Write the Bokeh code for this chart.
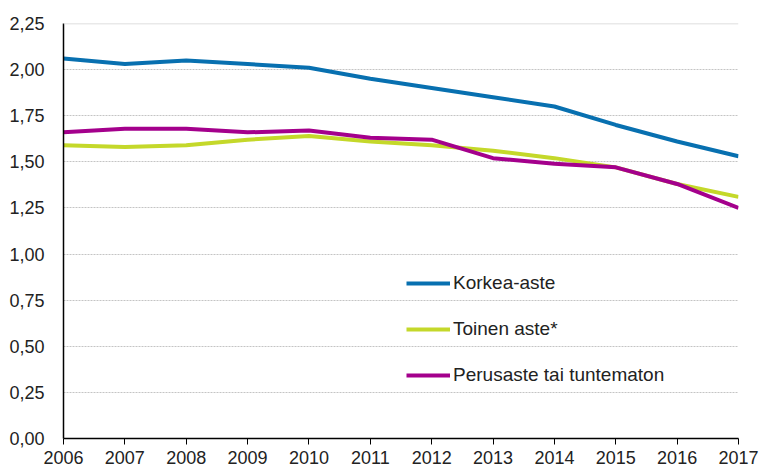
from bokeh.plotting import figure
from bokeh.models import FixedTicker, Range1d, Legend, LegendItem, Span
from bokeh.embed import file_html
from bokeh.resources import INLINE

years = [2006, 2007, 2008, 2009, 2010, 2011, 2012, 2013, 2014, 2015, 2016, 2017]
korkea = [2.06, 2.03, 2.05, 2.03, 2.01, 1.95, 1.90, 1.85, 1.80, 1.70, 1.61, 1.53]
toinen = [1.59, 1.58, 1.59, 1.62, 1.64, 1.61, 1.59, 1.56, 1.52, 1.47, 1.38, 1.31]
perus = [1.66, 1.68, 1.68, 1.66, 1.67, 1.63, 1.62, 1.52, 1.49, 1.47, 1.38, 1.25]
series_names = ["Korkea-aste", "Toinen aste*", "Perusaste tai tuntematon"]
colors = ["#0870B0", "#C4D82A", "#A4008C"]
y_ticks = [0.0, 0.25, 0.5, 0.75, 1.0, 1.25, 1.5, 1.75, 2.0, 2.25]

FONT = "Liberation Sans"

p = figure(width=760, height=468, output_backend="svg", toolbar_location=None,
           x_range=Range1d(2006, 2017), y_range=Range1d(0, 2.25),
           min_border_left=63, min_border_right=22, min_border_top=23, min_border_bottom=30)
p.outline_line_color = None
p.background_fill_color = "white"

p.add_layout(Span(location=y_ticks[-1], dimension="width", line_color="#d4d4d4", line_width=1.5))

renderers = []
for ys, c in zip([korkea, toinen, perus], colors):
    r = p.line(years, ys, line_color=c, line_width=4, line_join="round")
    renderers.append(r)

# axes
p.xaxis.ticker = FixedTicker(ticks=years)
p.xaxis.axis_line_color = "black"
p.xaxis.axis_line_width = 1.5
p.xaxis.major_tick_line_color = "black"
p.xaxis.major_tick_in = 0
p.xaxis.major_tick_out = 6
p.xaxis.minor_tick_line_color = None
p.xaxis.major_label_standoff = 6
p.xaxis.major_label_text_font = FONT
p.xaxis.major_label_text_font_size = "18px"
p.xaxis.major_label_text_color = "#222222"

p.yaxis.ticker = FixedTicker(ticks=y_ticks)
p.yaxis.major_label_overrides = {t: f"{t:.2f}".replace(".", ",") for t in y_ticks}
p.yaxis.axis_line_color = "black"
p.yaxis.axis_line_width = 1.5
p.yaxis.major_tick_line_color = None
p.yaxis.minor_tick_line_color = None
p.yaxis.major_label_standoff = 13
p.yaxis.major_label_text_font = FONT
p.yaxis.major_label_text_font_size = "18px"
p.yaxis.major_label_text_color = "#222222"

p.xgrid.grid_line_color = None
p.ygrid.ticker = FixedTicker(ticks=y_ticks[1:-1])
p.ygrid.grid_line_color = "#c4c4c4"
p.ygrid.grid_line_dash = "2 1"
p.ygrid.grid_line_width = 1

legend = Legend(items=[LegendItem(label=n, renderers=[r]) for n, r in zip(series_names, renderers)],
                location=(343, 52), orientation="vertical",
                label_text_font=FONT, label_text_font_size="19px", label_text_color="#222222",
                glyph_width=44, label_standoff=3, spacing=24,
                background_fill_alpha=0, border_line_color=None)
p.add_layout(legend, "center")

open("out.html", "w").write(file_html(p, INLINE))
